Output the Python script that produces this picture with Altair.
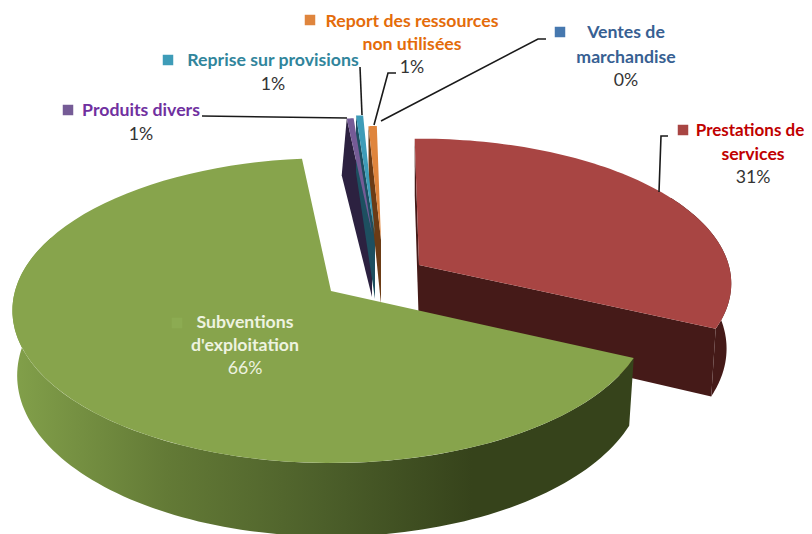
import math
import altair as alt
import pandas as pd

# Slice data, in chart order (clockwise from just left of 12 o'clock)
names = ["Prestations de services", "Subventions d'exploitation", "Produits divers",
         "Reprise sur provisions", "Report des ressources non utilisées", "Ventes de marchandise"]
shares = [32.2, 66.4, 0.45, 0.45, 0.5, 0.0]
start_angle = -0.9

# Look of the 3D pie
top_colors = ["#A84543", "#87A44C", "#755B96", "#3E9CB8", "#DF853D"]
dark_colors = ["#451A18", "#36431B", "#2C2140", "#1D4F60", "#6B3B15"]
apex_x = [419, 331, 372, 375, 381]
apex_y = [265, 291, 233, 235, 240]
scale_x = [0.98, 1.0, 0.87, 0.9, 0.95]
scale_y = [0.95, 1.0, 0.865, 0.9, 0.857]
base_x = [0.985, 0.985, 1.2, 1.0, 0.985]
RX, RY, K, DEPTH = 316, 150, -0.128, 64

labels_bold = [
    ("Report des ressources", 412, 22, "#E46C0A"), ("non utilisées", 412, 45, "#E46C0A"),
    ("Reprise sur provisions", 273, 61, "#31859C"), ("Produits divers", 141, 111, "#7030A0"),
    ("Ventes de", 626, 33, "#376092"), ("marchandise", 626, 58, "#376092"),
    ("services", 753, 155, "#C00000"),
    ("Subventions", 245, 323, "#EEF3E0"), ("d'exploitation", 245, 346, "#EEF3E0"),
]
labels_edge = [("Prestations de", 750, 131, "#C00000")]
labels_pct = [
    ("1%", 412, 68, "#333333"), ("1%", 273, 85, "#333333"), ("1%", 141, 135, "#333333"),
    ("0%", 626, 81, "#333333"), ("31%", 753, 178, "#333333"), ("66%", 245, 369, "#EEF3E0"),
]
markers = [(68, 110, "#755B96"), (168, 60, "#3E9CB8"), (310, 20, "#DF853D"),
           (560, 32, "#4678AF"), (683, 130, "#A84543"), (177, 323, "#8CAB52")]
leaders = [
    [(202, 116), (347, 118)],
    [(360, 67), (362, 115)],
    [(396, 73), (388, 73), (374, 125)],
    [(546, 39), (538, 39), (381, 121)],
    [(668, 136), (661, 136), (659, 192)],
]

xs = alt.Scale(domain=[8, 804], range=[0, 796], nice=False, zero=False)
ys = alt.Scale(domain=[8, 534], range=[0, 526], nice=False, zero=False)
X = alt.X("x:Q", scale=xs, axis=None)
Y = alt.Y("y:Q", scale=ys, axis=None)


def rim(i, a):
    r = math.radians(a)
    u, v = math.sin(r), -math.cos(r)
    den = 1 + K * v
    x = apex_x[i] + RX * scale_x[i] * u / den
    y = apex_y[i] + RY * scale_y[i] * v / den
    return x, y, den


def base(i, a):
    x, y, den = rim(i, a)
    return apex_x[i] + (x - apex_x[i]) * base_x[i], y + DEPTH / den


def arc(a0, a1, n=80):
    return [a0 + (a1 - a0) * t / n for t in range(n + 1)]


def polygon(points, fill):
    df = pd.DataFrame(points, columns=["x", "y"])
    df["i"] = range(len(df))
    return alt.Chart(df).mark_line(fill=fill, stroke="#00000000", strokeWidth=0, clip=True).encode(
        x=X, y=Y, order="i:Q"
    )


bounds = [start_angle]
for s in shares:
    bounds.append(bounds[-1] + s * 3.6)

green_wall = alt.Gradient(
    gradient="linear", x1=0, y1=0, x2=1, y2=0,
    stops=[
        alt.GradientStop(offset=0.0, color="#82A04A"),
        alt.GradientStop(offset=0.25, color="#637A36"),
        alt.GradientStop(offset=0.5, color="#4C5F2A"),
        alt.GradientStop(offset=0.74, color="#36431B"),
        alt.GradientStop(offset=1.0, color="#36431B"),
    ],
)

layers = []


def face(i, a):
    return [rim(i, a)[:2], (apex_x[i], apex_y[i]), (apex_x[i], apex_y[i] + DEPTH), base(i, a)]


def top(i, a0, a1):
    return [(apex_x[i], apex_y[i])] + [rim(i, a)[:2] for a in arc(a0, a1)]


# Red slice: cut faces and outer wall
a0, a1 = bounds[0], bounds[1]
layers.append(polygon(face(0, a0), dark_colors[0]))
layers.append(polygon(face(0, a1), dark_colors[0]))
wa = arc(60, a1)
layers.append(polygon([rim(0, a)[:2] for a in wa] + [base(0, a) for a in reversed(wa)], dark_colors[0]))
layers.append(polygon(top(0, a0, a1), top_colors[0]))

# The three thin slices
for i in (2, 3, 4):
    layers.append(polygon(face(i, bounds[i]), dark_colors[i]))
for i in (2, 3, 4):
    layers.append(polygon(top(i, bounds[i], bounds[i + 1]), top_colors[i]))

# Green slice: outer wall and top
a0, a1 = bounds[1], bounds[2]
wa = arc(a0, 292, 120)
layers.append(polygon([rim(1, a)[:2] for a in wa] + [base(1, a) for a in reversed(wa)], green_wall))
layers.append(polygon(top(1, a0, a1), top_colors[1]))

# Leader lines
rows = []
for k, line in enumerate(leaders):
    for j, (x, y) in enumerate(line):
        rows.append({"x": x, "y": y, "k": k, "j": j})
layers.append(
    alt.Chart(pd.DataFrame(rows)).mark_line(color="#1A1A1A", strokeWidth=1.6).encode(
        x=X, y=Y, detail="k:N", order="j:Q"
    )
)

# Legend keys
mk = pd.DataFrame(markers, columns=["x", "y", "c"])
layers.append(
    alt.Chart(mk).mark_square(size=110, opacity=1).encode(
        x=X, y=Y, color=alt.Color("c:N", scale=None)
    )
)

# Labels
FONT = "Lato"
tb = pd.DataFrame(labels_bold, columns=["t", "x", "y", "c"])
layers.append(
    alt.Chart(tb).mark_text(font=FONT, fontSize=17.7, fontWeight="bold", align="center", baseline="middle").encode(
        x=X, y=Y, text="t:N", color=alt.Color("c:N", scale=None)
    )
)
te = pd.DataFrame(labels_edge, columns=["t", "x", "y", "c"])
layers.append(
    alt.Chart(te).mark_text(font=FONT, fontSize=17, fontWeight="bold", align="center", baseline="middle").encode(
        x=X, y=Y, text="t:N", color=alt.Color("c:N", scale=None)
    )
)
tp = pd.DataFrame(labels_pct, columns=["t", "x", "y", "c"])
layers.append(
    alt.Chart(tp).mark_text(font=FONT, fontSize=17.7, align="center", baseline="middle").encode(
        x=X, y=Y, text="t:N", color=alt.Color("c:N", scale=None)
    )
)

chart = (
    alt.layer(*layers)
    .properties(width=796, height=526, padding=0, background="white", autosize=alt.AutoSizeParams(type="none"))
    .configure_view(stroke=None)
)
chart.save("out.html", embed_options={"renderer": "svg", "actions": False})
